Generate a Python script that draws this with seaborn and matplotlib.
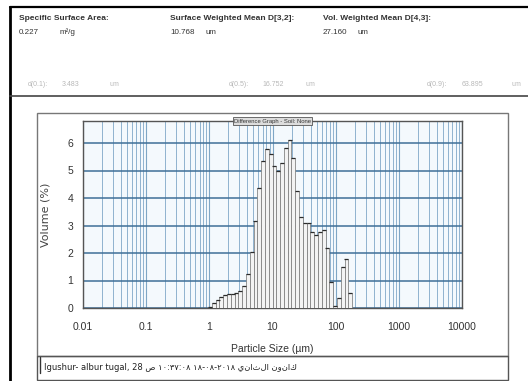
import numpy as np
import pandas as pd
import matplotlib
matplotlib.use("Agg")
import matplotlib.pyplot as plt
from matplotlib.lines import Line2D
from matplotlib.patches import Rectangle
import matplotlib.ticker as mticker
import seaborn as sns

# ---- data -------------------------------------------------------------
size_edges = [0.955, 1.096, 1.259, 1.445, 1.660, 1.905, 2.188, 2.512, 2.884,
              3.311, 3.802, 4.365, 5.012, 5.754, 6.607, 7.586, 8.710, 10.000,
              11.482, 13.183, 15.136, 17.378, 19.953, 22.909, 26.303, 30.200,
              34.674, 39.811, 45.709, 52.481, 60.256, 69.183, 79.433, 91.201,
              104.713, 120.226, 138.038, 158.489, 181.970]
volume_pct = [0.05, 0.20, 0.30, 0.40, 0.47, 0.50, 0.52, 0.55, 0.62, 0.80,
              1.25, 2.05, 3.15, 4.35, 5.35, 5.80, 5.60, 5.15, 4.98, 5.27,
              5.83, 6.10, 5.47, 4.25, 3.32, 3.08, 3.10, 2.77, 2.65, 2.77,
              2.84, 2.18, 0.96, 0.08, 0.38, 1.50, 1.78, 0.55]
x_tick_values = [0.01, 0.1, 1, 10, 100, 1000, 10000]
x_tick_labels = ["0.01", "0.1", "1", "10", "100", "1000", "10000"]
y_tick_values = [0, 1, 2, 3, 4, 5, 6]

header_labels = ["Specific Surface Area:", "Surface Weighted Mean D[3,2]:",
                 "Vol. Weighted Mean D[4,3]:"]
header_values = ["0.227", "10.768", "27.160"]
header_units = ["m\u00b2/g", "um", "um"]
d_labels = ["d(0.1):", "d(0.5):", "d(0.9):"]
d_values = ["3.483", "16.752", "63.895"]

edges = np.array(size_edges)
centers = np.sqrt(edges[:-1] * edges[1:])
log_edges = np.log10(edges)
df = pd.DataFrame({"size": centers, "vol": volume_pct})

# ---- figure -----------------------------------------------------------
W, H = 528, 381
sns.set_style("white")
plt.rcParams["font.family"] = ["Liberation Sans Narrow", "Liberation Sans", "DejaVu Sans"]

fig = plt.figure(figsize=(W / 100, H / 100), dpi=100)


def fx(px):
    return px / W


def fy(py):
    return 1 - py / H


# header texts
hx = [19, 170, 323]
ux = [60, 205, 357]
for i in range(3):
    fig.text(fx(hx[i]), fy(18), header_labels[i], fontsize=6, fontweight="bold",
             color="#333333", va="center", ha="left")
    fig.text(fx(hx[i]), fy(32), header_values[i], fontsize=5.8, color="#333333",
             va="center", ha="left")
    fig.text(fx(ux[i]), fy(32), header_units[i], fontsize=5.8, color="#333333",
             va="center", ha="left")

dx = [28, 229, 427]
dvx = [62, 262, 462]
dux = [110, 305, 512]
for i in range(3):
    fig.text(fx(dx[i]), fy(85), d_labels[i], fontsize=5, color="#b8b8b8", va="center")
    fig.text(fx(dvx[i]), fy(85), d_values[i], fontsize=5, color="#b8b8b8", va="center")
    fig.text(fx(dux[i]), fy(85), "um", fontsize=5, color="#b8b8b8", va="center")

# frame lines
fig.add_artist(Line2D([fx(10), fx(10)], [fy(7), fy(381)], color="black", lw=2))
fig.add_artist(Line2D([fx(10), fx(528)], [fy(7), fy(7)], color="black", lw=1.6))
fig.add_artist(Line2D([fx(10), fx(528)], [fy(96), fy(96)], color="#444444", lw=1.2))
fig.add_artist(Rectangle((fx(37), fy(356)), fx(508) - fx(37), fy(113) - fy(356),
                         fill=False, edgecolor="#777777", lw=1.0))
fig.add_artist(Rectangle((fx(37), fy(380)), fx(508) - fx(37), fy(356) - fy(380),
                         fill=False, edgecolor="#555555", lw=1.0))
fig.add_artist(Line2D([fx(40), fx(40)], [fy(357), fy(373)], color="#333333", lw=1.0))

# footer text (Arabic part given in logical order, displayed right-to-left)
arabic = "كانون الثاني ١٨-٠٨-٢٠١٨ ١٠:٣٧:٠٨ ص"
arabic_visual = " ".join(w[::-1] if not any(c in "٠١٢٣٤٥٦٧٨٩" for c in w) else w
                         for w in arabic.split(" ")[::-1])
fig.text(fx(44), fy(368), "Igushur- albur tugal, 28 " + arabic_visual,
         fontsize=6, color="#222222", va="center", ha="left",
         family=["DejaVu Sans"])

# ---- plot -------------------------------------------------------------
ax = fig.add_axes([fx(83), fy(308), fx(462) - fx(83), fy(121) - fy(308)])
ax.set_facecolor("#f4f9fd")

sns.histplot(data=df, x="size", weights="vol",
             binwidth=float(np.mean(np.diff(log_edges))),
             binrange=(float(log_edges[0]), float(log_edges[-1])),
             log_scale=True, stat="count", element="bars", fill=True,
             color="#f3f3f3", edgecolor="#7c7c7c", linewidth=0.55, alpha=1,
             ax=ax, zorder=3)
sns.scatterplot(data=df, x="size", y="vol", marker="_", s=8, color="#2b2b2b",
                linewidth=0.9, ax=ax, zorder=4, legend=False)

ax.set_xscale("log")
ax.set_xlim(0.01, 10000)
ax.set_ylim(0, 6.8)
ax.set_xticks(x_tick_values)
ax.set_xticklabels(x_tick_labels)
ax.set_yticks(y_tick_values)
ax.xaxis.set_minor_locator(mticker.LogLocator(base=10, subs=np.arange(2, 10)))
ax.xaxis.set_minor_formatter(mticker.NullFormatter())
ax.grid(True, which="major", axis="x", color="#7ea6c6", lw=0.8, zorder=0)
ax.grid(True, which="minor", axis="x", color="#8fb2cf", lw=0.7, zorder=0)
ax.grid(True, which="major", axis="y", color="#3f6f98", lw=1.1, zorder=0)
ax.set_axisbelow(True)
ax.tick_params(axis="x", which="both", length=0, labelsize=7.5,
               labelcolor="#333333", pad=10)
ax.tick_params(axis="y", which="both", length=0, labelsize=7.5,
               labelcolor="#333333", pad=7)
for s in ax.spines.values():
    s.set_color("#555555")
    s.set_linewidth(1.0)

ax.set_xlabel("Particle Size (\u00b5m)", fontsize=7.5, color="#333333", labelpad=9)
ax.set_ylabel("Volume (%)", fontsize=8, color="#444444", labelpad=12,
              family=["DejaVu Sans"])

ax.text(0.5, 1.0, "Difference Graph - Soil: None", transform=ax.transAxes,
        ha="center", va="center", fontsize=4.2, color="#333333", zorder=6,
        bbox=dict(boxstyle="square,pad=0.2", facecolor="#dddddd",
                  edgecolor="#555555", lw=0.6))

fig.savefig("out.png", dpi=100)
